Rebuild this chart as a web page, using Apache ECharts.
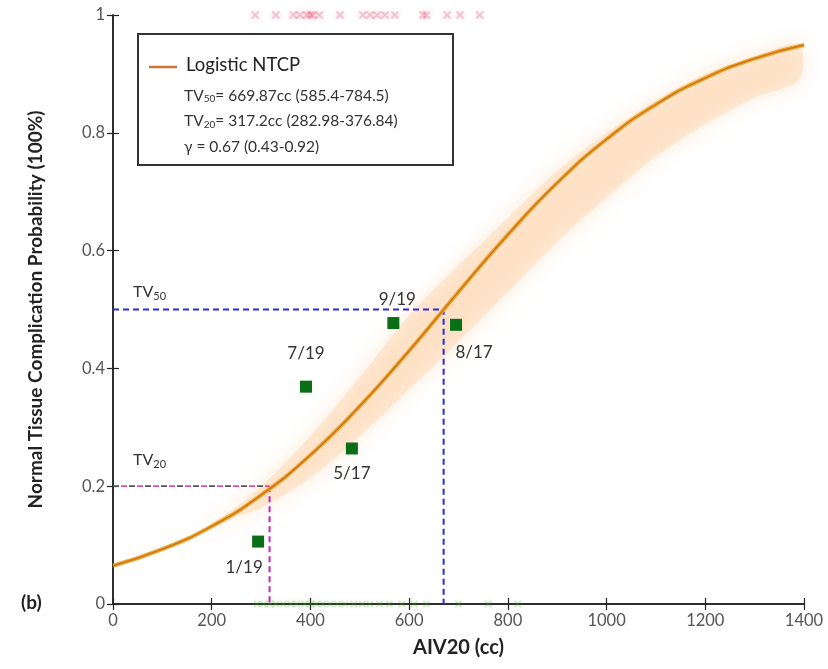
<!DOCTYPE html>
<html>
<head>
<meta charset="utf-8">
<script src="https://cdn.jsdelivr.net/npm/echarts@6/dist/echarts.min.js"></script>
<style>
  html, body { margin: 0; padding: 0; background: #fff; }
  #chart { width: 828px; height: 669px; }
</style>
</head>
<body>
<div id="chart"></div>
<script>
// Fitted logistic NTCP curve, sampled every 100 cc
const curveX = [0, 100, 200, 300, 400, 500, 600, 700, 800, 900, 1000, 1100, 1200, 1300, 1400];
const curveY = [0.065, 0.093, 0.132, 0.185, 0.253, 0.336, 0.43, 0.53, 0.627, 0.715, 0.789, 0.848, 0.893, 0.926, 0.949];

// Confidence band around the fit
const bandX = [200, 250, 300, 400, 500, 600, 700, 800, 900, 1000, 1100, 1200, 1300, 1390];
const bandLow = [0.128, 0.148, 0.163, 0.215, 0.285, 0.365, 0.445, 0.53, 0.615, 0.69, 0.76, 0.815, 0.86, 0.89];
const bandHigh = [0.136, 0.165, 0.2, 0.285, 0.385, 0.49, 0.575, 0.655, 0.735, 0.8, 0.855, 0.9, 0.93, 0.95];

// Binned observed complication rates
const binVolume = [294, 391, 484, 568, 695];
const binRate = [0.106, 0.369, 0.264, 0.477, 0.474];
const binEvents = [1, 7, 5, 9, 8];
const binTotal = [19, 19, 17, 19, 17];
const binLabelPos = ['bottomLeft', 'top', 'bottom', 'topRight', 'bottomRight'];

// Individual patients: with complication (top) and without (bottom)
const eventVolumes = [288, 330, 365, 379, 393, 400, 405, 418, 460, 506, 521, 535, 551, 571, 628, 635, 677, 703, 743];
const noEventVolumes = [292, 305, 318, 330, 345, 360, 372, 388, 400, 412, 425, 440, 455, 470, 488, 505, 520, 540, 560, 585, 610, 635, 700, 760, 820];

// Model parameters
const tv50 = 669.87, tv50CI = [585.4, 784.5];
const tv20 = 317.2, tv20CI = [282.98, 376.84];
const gamma = 0.67, gammaCI = [0.43, 0.92];

const xTicks = { min: 0, max: 1400, interval: 200 };
const yTicks = { min: 0, max: 1, interval: 0.2 };

const FONT = 'Lato, "Open Sans", sans-serif';

const chart = echarts.init(document.getElementById('chart'));

const posOffset = {
  bottomLeft: { position: 'bottom', offset: [-14, 6] },
  top: { position: 'top', offset: [0, -14] },
  bottom: { position: 'bottom', offset: [0, 6] },
  topRight: { position: 'top', offset: [4, -4] },
  bottomRight: { position: 'bottom', offset: [18, 8] }
};

const binData = binVolume.map((v, i) => ({
  value: [v, binRate[i]],
  label: {
    show: true,
    formatter: binEvents[i] + '/' + binTotal[i],
    position: posOffset[binLabelPos[i]].position,
    offset: posOffset[binLabelPos[i]].offset,
    fontFamily: FONT,
    fontSize: 17,
    color: '#333'
  }
}));

const crossPath = 'path://M4,0H6V10H4ZM0,4H10V6H0Z';

const axisCommon = {
  type: 'value',
  axisLine: { show: true, lineStyle: { color: '#222', width: 1.5 } },
  axisTick: { show: true, inside: true, length: 6, lineStyle: { color: '#222', width: 1.2 } },
  splitLine: { show: false }
};

const plainNumber = v => String(Math.round(v * 100) / 100);

chart.setOption({
  animation: false,
  backgroundColor: '#fff',
  grid: { left: 113, right: 24, top: 15, bottom: 65, containLabel: false },
  xAxis: [
    Object.assign({}, axisCommon, {
      min: xTicks.min, max: xTicks.max, interval: xTicks.interval,
      position: 'bottom',
      axisLabel: { fontFamily: FONT, fontSize: 16.5, color: '#555', margin: 8, formatter: plainNumber },
      name: 'AIV20 (cc)', nameLocation: 'middle', nameGap: 34,
      nameTextStyle: { fontFamily: FONT, fontSize: 20, fontWeight: 'bold', color: '#222' }
    }),
    Object.assign({}, axisCommon, {
      min: xTicks.min, max: xTicks.max, interval: xTicks.interval,
      position: 'top', axisLabel: { show: false }
    })
  ],
  yAxis: [
    Object.assign({}, axisCommon, {
      min: yTicks.min, max: yTicks.max, interval: yTicks.interval,
      position: 'left',
      axisLabel: { fontFamily: FONT, fontSize: 16.5, color: '#555', margin: 8, formatter: plainNumber },
      name: 'Normal Tissue Complication Probability (100%)', nameLocation: 'middle', nameGap: 68,
      nameTextStyle: { fontFamily: FONT, fontSize: 19, fontWeight: 'bold', color: '#222' }
    }),
    Object.assign({}, axisCommon, {
      min: yTicks.min, max: yTicks.max, interval: yTicks.interval,
      position: 'right', axisLabel: { show: false }
    })
  ],
  series: [
    {
      // Shaded confidence band
      type: 'custom',
      coordinateSystem: 'cartesian2d',
      silent: true,
      z: 1,
      data: [[0, 0]],
      renderItem: function (params, api) {
        const upper = bandX.map((x, i) => api.coord([x, bandHigh[i]]));
        const lower = bandX.map((x, i) => api.coord([x, bandLow[i]])).reverse();
        return {
          type: 'polygon',
          shape: { points: upper.concat(lower), smooth: 0.3 },
          style: {
            fill: 'rgba(253, 215, 178, 0.5)',
            shadowBlur: 20,
            shadowColor: 'rgba(253, 210, 170, 0.9)'
          }
        };
      }
    },
    {
      type: 'line',
      name: 'Logistic NTCP',
      data: curveX.map((x, i) => [x, curveY[i]]),
      smooth: true,
      showSymbol: false,
      z: 4,
      lineStyle: { color: '#f0a630', width: 4 }
    },
    {
      type: 'line',
      data: curveX.map((x, i) => [x, curveY[i]]),
      smooth: true,
      showSymbol: false,
      z: 5,
      lineStyle: { color: '#c8741a', width: 1.4 }
    },
    {
      // TV50 guide
      type: 'line',
      data: [[0, 0.5], [tv50, 0.5], [tv50, 0]],
      showSymbol: false,
      z: 3,
      lineStyle: { color: '#2a2ae0', width: 2, type: [6, 4] }
    },
    {
      // TV20 guide, horizontal part (two-tone dashes)
      type: 'line',
      data: [[0, 0.2], [tv20, 0.2]],
      showSymbol: false,
      z: 3,
      lineStyle: { color: '#555', width: 1.8, type: [6, 10], dashOffset: 0 }
    },
    {
      type: 'line',
      data: [[0, 0.2], [tv20, 0.2]],
      showSymbol: false,
      z: 3,
      lineStyle: { color: '#e0509a', width: 1.8, type: [6, 10], dashOffset: 8 }
    },
    {
      // TV20 guide, vertical part
      type: 'line',
      data: [[tv20, 0.2], [tv20, 0]],
      showSymbol: false,
      z: 3,
      lineStyle: { color: '#cc22b4', width: 2, type: [6, 4] }
    },
    {
      type: 'scatter',
      data: binData,
      symbol: 'rect',
      symbolSize: 12,
      z: 6,
      itemStyle: { color: '#0a6e16', opacity: 1 }
    },
    {
      type: 'scatter',
      data: eventVolumes.map(v => [v, 1]),
      symbol: crossPath,
      symbolSize: 10,
      symbolRotate: 45,
      z: 2,
      itemStyle: { color: 'rgba(225, 30, 70, 0.3)', shadowBlur: 6, shadowColor: 'rgba(225, 30, 70, 0.5)' }
    },
    {
      type: 'scatter',
      data: noEventVolumes.map(v => [v, 0]),
      symbol: crossPath,
      symbolSize: 9,
      symbolRotate: 45,
      z: 2,
      itemStyle: { color: 'rgba(70, 180, 40, 0.3)', shadowBlur: 6, shadowColor: 'rgba(70, 180, 40, 0.5)' }
    }
  ],
  graphic: [
    {
      type: 'text', left: 133, top: 284, z: 10,
      style: {
        text: 'TV{s|50}', fontFamily: FONT, fontSize: 16, fill: '#333',
        rich: { s: { fontSize: 11, fontFamily: FONT, fill: '#333', padding: [8, 0, 0, 0] } }
      }
    },
    {
      type: 'text', left: 133, top: 452, z: 10,
      style: {
        text: 'TV{s|20}', fontFamily: FONT, fontSize: 16, fill: '#333',
        rich: { s: { fontSize: 11, fontFamily: FONT, fill: '#333', padding: [8, 0, 0, 0] } }
      }
    },
    {
      type: 'text', left: 21, top: 593, z: 10,
      style: { text: '(b)', fontFamily: FONT, fontSize: 19, fontWeight: 'bold', fill: '#222' }
    },
    {
      type: 'group', left: 137, top: 33, z: 20,
      children: [
        {
          type: 'rect', shape: { x: 0, y: 0, width: 315, height: 131 },
          style: { fill: '#fff', stroke: '#333', lineWidth: 2 }
        },
        {
          type: 'line', shape: { x1: 11, y1: 33, x2: 39, y2: 33 },
          style: { stroke: '#d0703a', lineWidth: 2.5 }
        },
        {
          type: 'text', x: 48, y: 22,
          style: { text: 'Logistic NTCP', fontFamily: FONT, fontSize: 18.5, fill: '#222' }
        },
        {
          type: 'text', x: 46, y: 49,
          style: {
            text: 'TV{s|50}= ' + tv50 + 'cc (' + tv50CI[0] + '-' + tv50CI[1] + ')\n' +
                  'TV{s|20}= ' + tv20 + 'cc (' + tv20CI[0] + '-' + tv20CI[1] + ')\n' +
                  'γ = ' + gamma + ' (' + gammaCI[0] + '-' + gammaCI[1] + ')',
            fontFamily: FONT, fontSize: 15.5, fill: '#333', lineHeight: 25.5,
            rich: { s: { fontSize: 10, fontFamily: FONT, fill: '#333', padding: [7, 0, 0, 0], lineHeight: 25.5 } }
          }
        }
      ]
    }
  ]
});
</script>
</body>
</html>
